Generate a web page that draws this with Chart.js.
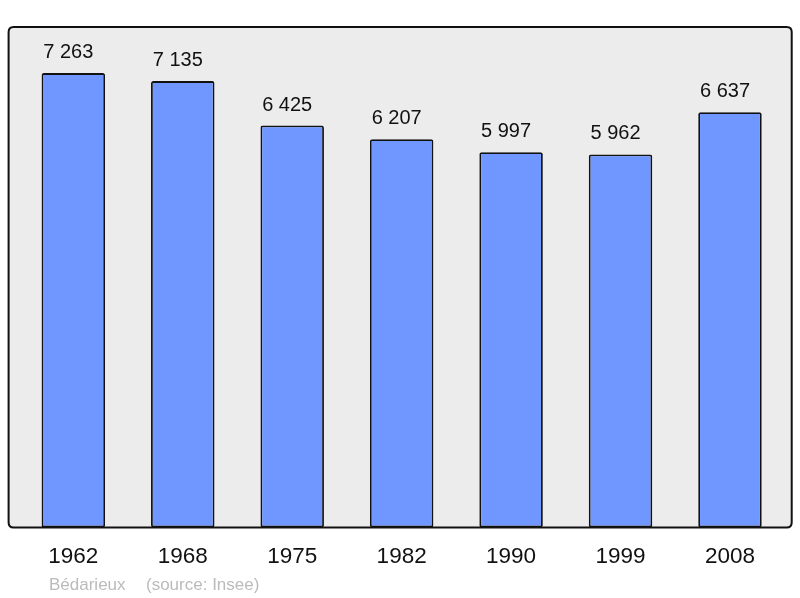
<!DOCTYPE html>
<html>
<head>
<meta charset="utf-8">
<script src="https://cdn.jsdelivr.net/npm/chart.js@4"></script>
<style>
  html, body { margin: 0; padding: 0; background: #fff; }
  #wrap { width: 800px; height: 598px; }
</style>
</head>
<body>
<div id="wrap"><canvas id="popChart" width="800" height="598"></canvas></div>
<script>
// Population de Bédarieux (source: Insee)
const years = ['1962', '1968', '1975', '1982', '1990', '1999', '2008'];
const population = [7263, 7135, 6425, 6207, 5997, 5962, 6637];
const yMax = 8000;

const font = '"Liberation Sans", Arial, sans-serif';

function fmt(n) {
  return String(n).replace(/\B(?=(\d{3})+(?!\d))/g, ' ');
}

function roundRect(ctx, x, y, w, h, r) {
  ctx.beginPath();
  ctx.moveTo(x + r, y);
  ctx.lineTo(x + w - r, y);
  ctx.quadraticCurveTo(x + w, y, x + w, y + r);
  ctx.lineTo(x + w, y + h - r);
  ctx.quadraticCurveTo(x + w, y + h, x + w - r, y + h);
  ctx.lineTo(x + r, y + h);
  ctx.quadraticCurveTo(x, y + h, x, y + h - r);
  ctx.lineTo(x, y + r);
  ctx.quadraticCurveTo(x, y, x + r, y);
  ctx.closePath();
}

// grey frame behind the bars, black outline on top
const framePlugin = {
  id: 'frame',
  beforeDatasetsDraw(chart) {
    const a = chart.chartArea;
    const ctx = chart.ctx;
    ctx.save();
    roundRect(ctx, a.left - 10, a.top, a.right - a.left + 17, a.bottom - a.top, 5);
    ctx.fillStyle = '#ececec';
    ctx.fill();
    ctx.restore();
  },
  afterDatasetsDraw(chart) {
    const a = chart.chartArea;
    const ctx = chart.ctx;
    ctx.save();
    roundRect(ctx, a.left - 10, a.top, a.right - a.left + 17, a.bottom - a.top, 5);
    ctx.lineWidth = 2;
    ctx.strokeStyle = '#111';
    ctx.stroke();

    // value labels (sit a little left of the bar centre in the original)
    ctx.font = '20px ' + font;
    ctx.fillStyle = '#111';
    ctx.textAlign = 'center';
    ctx.textBaseline = 'alphabetic';
    chart.getDatasetMeta(0).data.forEach((bar, i) => {
      ctx.fillText(fmt(population[i]), bar.x - 5, bar.y - 15);
    });

    // footer
    ctx.font = '17px ' + font;
    ctx.fillStyle = '#bbbbbb';
    ctx.textAlign = 'left';
    ctx.fillText('Bédarieux', 49, 590);
    ctx.fillText('(source: Insee)', 146, 590);
    ctx.restore();
  }
};

const ctx = document.getElementById('popChart').getContext('2d');
new Chart(ctx, {
  type: 'bar',
  data: {
    labels: years,
    datasets: [{
      data: population,
      backgroundColor: '#7096ff',
      borderColor: '#111',
      borderWidth: 1.8,
      borderRadius: 2,
      borderSkipped: false,
      barPercentage: 0.58,
      categoryPercentage: 1
    }]
  },
  options: {
    responsive: false,
    animation: false,
    layout: { padding: { left: 18.6, right: 15.3, top: 27, bottom: 11.6 } },
    plugins: {
      legend: { display: false },
      tooltip: { enabled: false }
    },
    scales: {
      x: {
        grid: { display: false, drawTicks: false },
        border: { display: false },
        ticks: { color: '#111', font: { family: font, size: 22.5 }, padding: 16 }
      },
      y: {
        display: false,
        min: 0,
        max: yMax
      }
    }
  },
  plugins: [framePlugin]
});
</script>
</body>
</html>
